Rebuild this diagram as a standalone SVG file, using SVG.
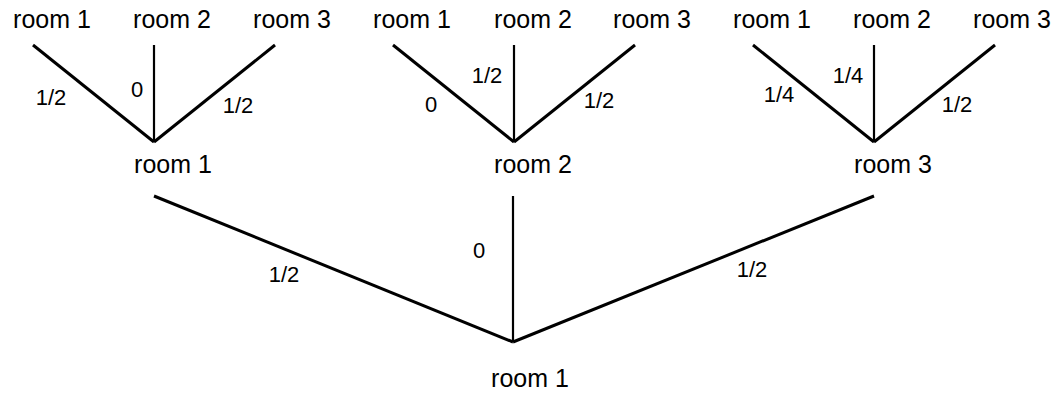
<svg xmlns="http://www.w3.org/2000/svg" width="1058" height="393" viewBox="0 0 1058 393">
  <style>
    .node { font-family: "Liberation Sans", Arial, Helvetica, sans-serif; font-size: 25px; fill: #000; text-anchor: middle; }
    .lbl { font-family: "Liberation Sans", Arial, Helvetica, sans-serif; font-size: 22px; fill: #000; text-anchor: middle; }
    .diag { stroke: #000; stroke-width: 3; fill: none; }
    .vert { stroke: #000; stroke-width: 2.2; fill: none; }
  </style>
  <rect width="1058" height="393" fill="#fff"/>
  <g id="connectors">
    <line class="diag" x1="33" y1="45" x2="154" y2="142"/>
    <line class="vert" x1="154" y1="45" x2="154" y2="142"/>
    <line class="diag" x1="275" y1="45" x2="154" y2="142"/>
    <line class="diag" x1="393" y1="45" x2="514" y2="142"/>
    <line class="vert" x1="514" y1="45" x2="514" y2="142"/>
    <line class="diag" x1="635" y1="45" x2="514" y2="142"/>
    <line class="diag" x1="753" y1="45" x2="874" y2="142"/>
    <line class="vert" x1="874" y1="45" x2="874" y2="142"/>
    <line class="diag" x1="995" y1="45" x2="874" y2="142"/>
    <line class="diag" x1="154" y1="196" x2="513" y2="342"/>
    <line class="vert" x1="513" y1="196" x2="513" y2="342"/>
    <line class="diag" x1="874" y1="196" x2="513" y2="342"/>
    <text class="lbl" x="51" y="105">1/2</text>
    <text class="lbl" x="137" y="97">0</text>
    <text class="lbl" x="238" y="113">1/2</text>
    <text class="lbl" x="431" y="112">0</text>
    <text class="lbl" x="487" y="83">1/2</text>
    <text class="lbl" x="599" y="108">1/2</text>
    <text class="lbl" x="779" y="102">1/4</text>
    <text class="lbl" x="848" y="83">1/4</text>
    <text class="lbl" x="957" y="112">1/2</text>
    <text class="lbl" x="284" y="282">1/2</text>
    <text class="lbl" x="479" y="258">0</text>
    <text class="lbl" x="752" y="277">1/2</text>
  </g>
  <g id="t1-room1"><text class="node" x="52" y="28">room 1</text></g>
  <g id="t1-room2"><text class="node" x="172" y="28">room 2</text></g>
  <g id="t1-room3"><text class="node" x="292" y="28">room 3</text></g>
  <g id="t2-room1"><text class="node" x="412" y="28">room 1</text></g>
  <g id="t2-room2"><text class="node" x="533" y="28">room 2</text></g>
  <g id="t2-room3"><text class="node" x="652" y="28">room 3</text></g>
  <g id="t3-room1"><text class="node" x="772" y="28">room 1</text></g>
  <g id="t3-room2"><text class="node" x="892" y="28">room 2</text></g>
  <g id="t3-room3"><text class="node" x="1012" y="28">room 3</text></g>
  <g id="mid-room1"><text class="node" x="173" y="173">room 1</text></g>
  <g id="mid-room2"><text class="node" x="533" y="173">room 2</text></g>
  <g id="mid-room3"><text class="node" x="893" y="173">room 3</text></g>
  <g id="root-room1"><text class="node" x="530" y="387">room 1</text></g>
</svg>
